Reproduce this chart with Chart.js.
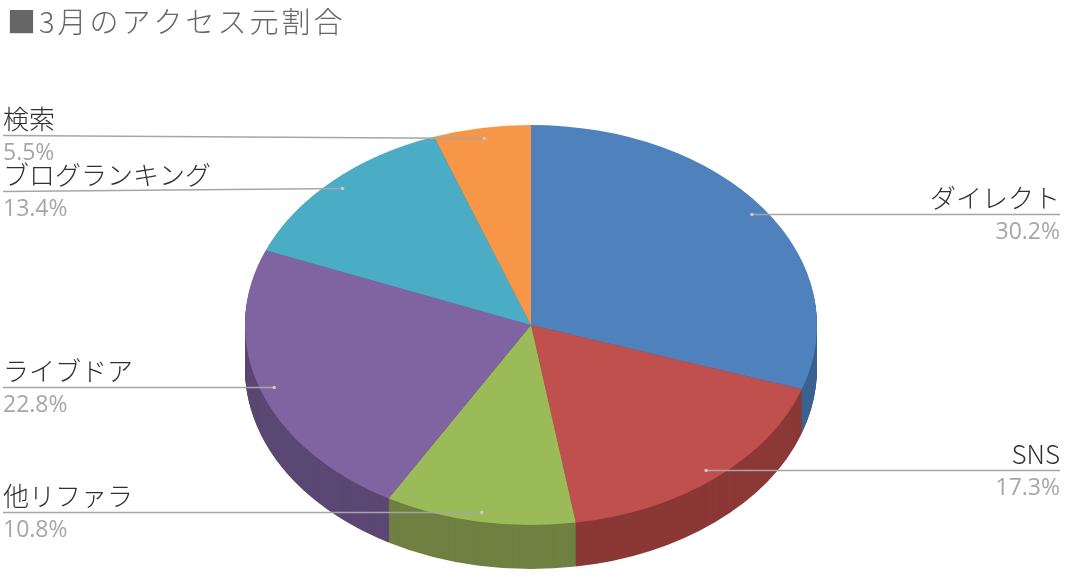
<!DOCTYPE html>
<html>
<head>
<meta charset="utf-8">
<script src="https://cdn.jsdelivr.net/npm/chart.js@4.4.1/dist/chart.umd.min.js"></script>
<style>
  html, body { margin: 0; padding: 0; background: #ffffff; }
  #wrap { width: 1067px; height: 575px; position: relative; }
</style>
</head>
<body>
<div id="wrap"><canvas id="c" width="1067" height="575"></canvas></div>
<script>
// ---- data ----
const chartTitle = '■3月のアクセス元割合';
const categories = ['ダイレクト', 'SNS', '他リファラ', 'ライブドア', 'ブログランキング', '検索'];
const shares = [30.2, 17.3, 10.8, 22.8, 13.4, 5.5];
const topColors = ['#4f81bd', '#c0504d', '#9bbb59', '#8064a2', '#4bacc6', '#f79646'];
const sideColors = ['#3a6391', '#8b3836', '#6f8042', '#5b4773', '#35798c', '#b06a31'];

// ---- 3D look settings ----
const PIE_RADIUS = 286;
const TILT = 0.6993;
const CENTER_Y = 325;
const DEPTH = 44;
const DOT_FRACTION = 0.95;
const MIN_LABEL_GAP = 56;

function withTilt(ctx, cy, dy) {
  ctx.translate(0, CENTER_Y + dy);
  ctx.scale(1, TILT);
  ctx.translate(0, -cy);
}

const pie3d = {
  id: 'pie3d',
  beforeDatasetsDraw(chart) {
    const ctx = chart.ctx;
    const meta = chart.getDatasetMeta(0);
    if (!meta.data.length) return;
    const cy = meta.data[0].y;
    for (let d = DEPTH; d >= 1; d--) {
      ctx.save();
      withTilt(ctx, cy, d);
      meta.data.forEach((arc, i) => {
        const o = arc.options;
        const bg = o.backgroundColor;
        o.backgroundColor = sideColors[i];
        arc.draw(ctx);
        o.backgroundColor = bg;
      });
      ctx.restore();
    }
    ctx.save();
    withTilt(ctx, cy, 0);
  },
  afterDatasetsDraw(chart) {
    const ctx = chart.ctx;
    ctx.restore();
    const meta = chart.getDatasetMeta(0);
    const W = chart.width;
    // compute anchor dots
    const items = meta.data.map((arc, i) => {
      const p = arc.getProps(['x', 'y', 'startAngle', 'endAngle', 'outerRadius'], true);
      const a = (p.startAngle + p.endAngle) / 2;
      const px = p.x + Math.cos(a) * p.outerRadius * DOT_FRACTION;
      const py = CENTER_Y + Math.sin(a) * p.outerRadius * DOT_FRACTION * TILT;
      return { i, px, py, right: px > p.x, ly: py };
    });
    // spread overlapping labels on each side
    [true, false].forEach(side => {
      const group = items.filter(it => it.right === side).sort((a, b) => a.py - b.py);
      for (let k = 1; k < group.length; k++) {
        const gap = group[k].ly - group[k - 1].ly;
        if (gap < MIN_LABEL_GAP) {
          const push = (MIN_LABEL_GAP - gap) / 2;
          group[k - 1].ly -= push;
          group[k].ly += push;
        }
      }
    });
    items.forEach(it => {
      const i = it.i;
      const lineY = Math.round(it.ly) + 0.5;
      const dotY = Math.round(it.py) + 0.5;
      const x0 = it.right ? W - 7 : 3;
      ctx.save();
      ctx.strokeStyle = '#a6a6a6';
      ctx.lineWidth = 1.3;
      ctx.beginPath();
      ctx.moveTo(it.px, dotY);
      ctx.lineTo(x0, lineY);
      ctx.stroke();
      ctx.fillStyle = '#c8c8c8';
      ctx.beginPath();
      ctx.arc(it.px, dotY, 1.8, 0, Math.PI * 2);
      ctx.fill();
      ctx.textAlign = it.right ? 'right' : 'left';
      ctx.textBaseline = 'alphabetic';
      ctx.fillStyle = '#303030';
      ctx.font = '300 26px "Noto Sans CJK JP"';
      ctx.fillText(categories[i], x0, lineY - 7);
      ctx.fillStyle = '#a6a6a6';
      ctx.font = '400 23px "Open Sans"';
      ctx.fillText(shares[i].toFixed(1) + '%', x0, lineY + 24);
      ctx.restore();
    });
  },
  afterDraw(chart) {
    const ctx = chart.ctx;
    ctx.save();
    ctx.fillStyle = '#666666';
    ctx.textAlign = 'left';
    ctx.textBaseline = 'alphabetic';
    ctx.font = '300 29px "Noto Sans CJK JP"';
    try { ctx.letterSpacing = '3px'; } catch (e) {}
    ctx.fillText(chartTitle, 7, 33);
    ctx.restore();
  }
};

new Chart(document.getElementById('c'), {
  type: 'pie',
  data: {
    labels: categories,
    datasets: [{
      data: shares,
      backgroundColor: topColors,
      borderWidth: 0,
      radius: PIE_RADIUS,
      clip: false
    }]
  },
  options: {
    responsive: false,
    animation: false,
    events: [],
    layout: { padding: { left: 0, right: 5, top: 0, bottom: 0 } },
    plugins: {
      legend: { display: false },
      title: { display: false },
      tooltip: { enabled: false }
    }
  },
  plugins: [pie3d]
});
</script>
</body>
</html>
